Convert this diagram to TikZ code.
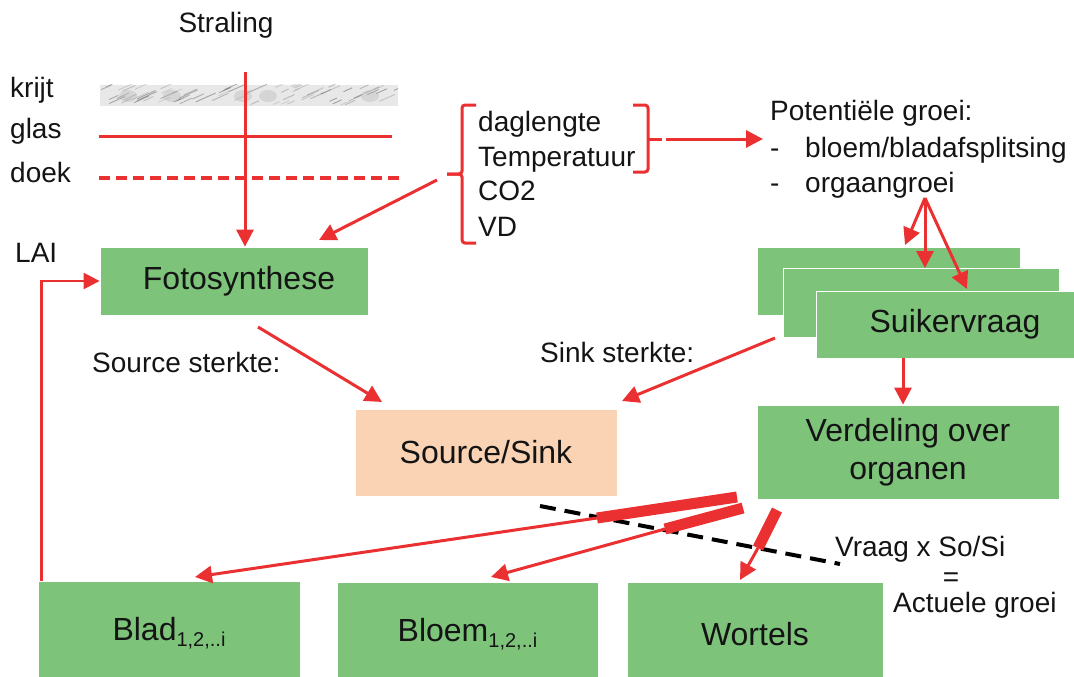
\documentclass[tikz,border=0pt]{standalone}
\usepackage{fontspec}
\setmainfont{Liberation Sans}
\usetikzlibrary{arrows.meta}
\definecolor{rd}{RGB}{234,48,48}
\definecolor{gr}{RGB}{125,196,122}
\definecolor{pch}{RGB}{249,211,180}
\definecolor{txt}{RGB}{20,20,20}
\tikzset{
 box/.style={fill=gr, draw=white, line width=0.8pt, inner sep=0pt, font=\fontsize{32}{38}\selectfont, text=txt},
 lbl/.style={inner sep=0pt, font=\fontsize{28}{33}\selectfont, anchor=base west, text=txt},
 arr/.style={draw=rd, line width=3pt, -{Triangle[length=17pt,width=17pt]}},
 thinarr/.style={draw=rd, line width=2.5pt, -{Triangle[length=16pt,width=16pt]}},
 bar/.style={draw=rd, line width=11pt},
 bracket/.style={draw=rd, line width=3pt, rounded corners=3pt},
}
\begin{document}
\begin{tikzpicture}[x=1pt,y=-1pt]
\useasboundingbox (0,0) rectangle (1074,677);
\clip (0,0) rectangle (1074,677);

% top labels
\node[lbl, anchor=base] (straling) at (226,33) {Straling};
\node[lbl] (krijt) at (10,98) {krijt};
\node[lbl] (glas) at (10,138) {glas};
\node[lbl] (doek) at (10,182) {doek};
\node[lbl] (lai) at (15,262) {LAI};

% krijt bar (marbled texture)
\begin{scope}
\clip (100,85) rectangle (398,106);
\fill[gray!18] (100,85) rectangle (398,106);
\pgfmathsetseed{7}
\foreach \i in {1,...,70}{
  \pgfmathsetmacro{\xx}{100+298*rnd}
  \pgfmathsetmacro{\yy}{86+19*rnd}
  \pgfmathsetmacro{\ll}{6+14*rnd}
  \pgfmathsetmacro{\op}{0.15+0.35*rnd}
  \draw[gray!70!black, line width=0.9pt, opacity=\op, line cap=round] (\xx,\yy) -- ++(\ll,-0.45*\ll);
}
\foreach \xx in {128,172,243,268,370}{
  \fill[gray!60, opacity=0.35] (\xx,96) ellipse (9pt and 6pt);
}
\end{scope}
% glas, doek
\draw[rd, line width=3pt] (99,136) -- (392,136);
\draw[rd, line width=3.5pt, dash pattern=on 11pt off 6pt] (99,178) -- (400,178);

% boxes
\node[box, minimum width=268pt, minimum height=68pt] (foto) at (234,281) {\hspace*{10pt}Fotosynthese};
\node[box, fill=pch, minimum width=262pt, minimum height=87pt] (ss) at (486,452.5) {Source/Sink};
\node[box, minimum width=263pt, minimum height=68pt] (sv1) at (888.5,281) {};
\node[box, minimum width=276pt, minimum height=69pt] (sv2) at (921,302.5) {};
\node[box, minimum width=278pt, minimum height=67pt] (sv3) at (955,324.5) {Suikervraag};
\node[box, minimum width=302pt, minimum height=94pt, align=center] (verd) at (908,452) {Verdeling over\\organen};
\node[box, minimum width=262pt, minimum height=104pt] (blad) at (169,633) {Blad{\fontsize{20}{24}\selectfont\raisebox{-6pt}{1,2,..i}}};
\node[box, minimum width=261pt, minimum height=104pt] (bloem) at (467.5,634) {Bloem{\fontsize{20}{24}\selectfont\raisebox{-6pt}{1,2,..i}}};
\node[box, minimum width=256pt, minimum height=104pt] (wort) at (755,634) {Wortels};

% factor texts
\node[lbl] (dag) at (478,131) {daglengte};
\node[lbl] (temp) at (478,166) {Temperatuur};
\node[lbl] (co2) at (478,200) {CO2};
\node[lbl] (vd) at (478,236) {VD};

% brackets
\draw[bracket] (476,105) -- (462,105) -- (462,174) -- (447,174);
\draw[bracket] (447,174) -- (462,174) -- (462,243) -- (476,243);
\draw[bracket] (633,105) -- (648,105) -- (648,172) -- (633,172);
\draw[rd, line width=3pt] (648,139) -- (662,139);

% potentiele groei
\node[lbl] (pot) at (770,121) {Potentiële groei:};
\node[lbl] (d1) at (770,157) {-};
\node[lbl] (bloemt) at (805,157) {bloem/bladafsplitsing};
\node[lbl] (d2) at (770,192) {-};
\node[lbl] (org) at (805,192) {orgaangroei};

% other labels
\node[lbl] (srcs) at (92,372) {Source sterkte:};
\node[lbl] (sinks) at (540,362) {Sink sterkte:};
\node[lbl] (vraag) at (835,556) {Vraag x So/Si};
\node[lbl, anchor=base] (eq) at (951,586) {=};
\node[lbl] (act) at (893,612) {Actuele groei};

% coordinates
\coordinate (sTop) at (245,72);
\coordinate (lbTail) at (437,180);
\coordinate (fotoIn) at (319,240);
\coordinate (rbTail) at (666,139);
\coordinate (potIn) at (763,139);
\coordinate (apex) at (925,198);
\coordinate (f1) at (905,245);
\coordinate (f2) at (925,268);
\coordinate (f3) at (967,289);
\coordinate (fotoOut) at (258,327);
\coordinate (ssInL) at (382,402);
\coordinate (svOut) at (775,338);
\coordinate (ssInR) at (622,401);
\coordinate (b1s) at (737,497);
\coordinate (b1e) at (597,518);
\coordinate (b2s) at (743,508);
\coordinate (b2e) at (665,529);
\coordinate (b3s) at (777,510);
\coordinate (b3e) at (758,548);
\coordinate (bladIn) at (195,577);
\coordinate (bloemIn) at (491,577);
\coordinate (wortIn) at (740,580);

% connectors
\draw[arr] (sTop) -- (sTop |- foto.north);
\draw[arr] (lbTail) -- (fotoIn);
\draw[arr] (rbTail) -- (potIn);
\draw[arr] (apex) -- (f1);
\draw[arr] (apex) -- (f2);
\draw[arr] (apex) -- (f3);
\draw[arr] (fotoOut) -- (ssInL);
\draw[arr] (svOut) -- (ssInR);
\draw[arr] (sv3.south -| 903,0) -- (verd.north -| 903,0);
\draw[thinarr] (blad.north west) ++(4,0) coordinate (laiS) (laiS) |- (foto.west);

% dashed line
\draw[black, line width=4pt, dash pattern=on 16pt off 9pt] (540,506) coordinate (dl1) -- (840,564) coordinate (dl2);

% bars and distribution arrows
\draw[bar] (b1s) -- (b1e);
\draw[bar] (b2s) -- (b2e);
\draw[bar] (b3s) -- (b3e);
\draw[arr] (b1e) -- (bladIn);
\draw[arr] (b2e) -- (bloemIn);
\draw[arr] (b3e) -- (wortIn);
\end{tikzpicture}
\end{document}
